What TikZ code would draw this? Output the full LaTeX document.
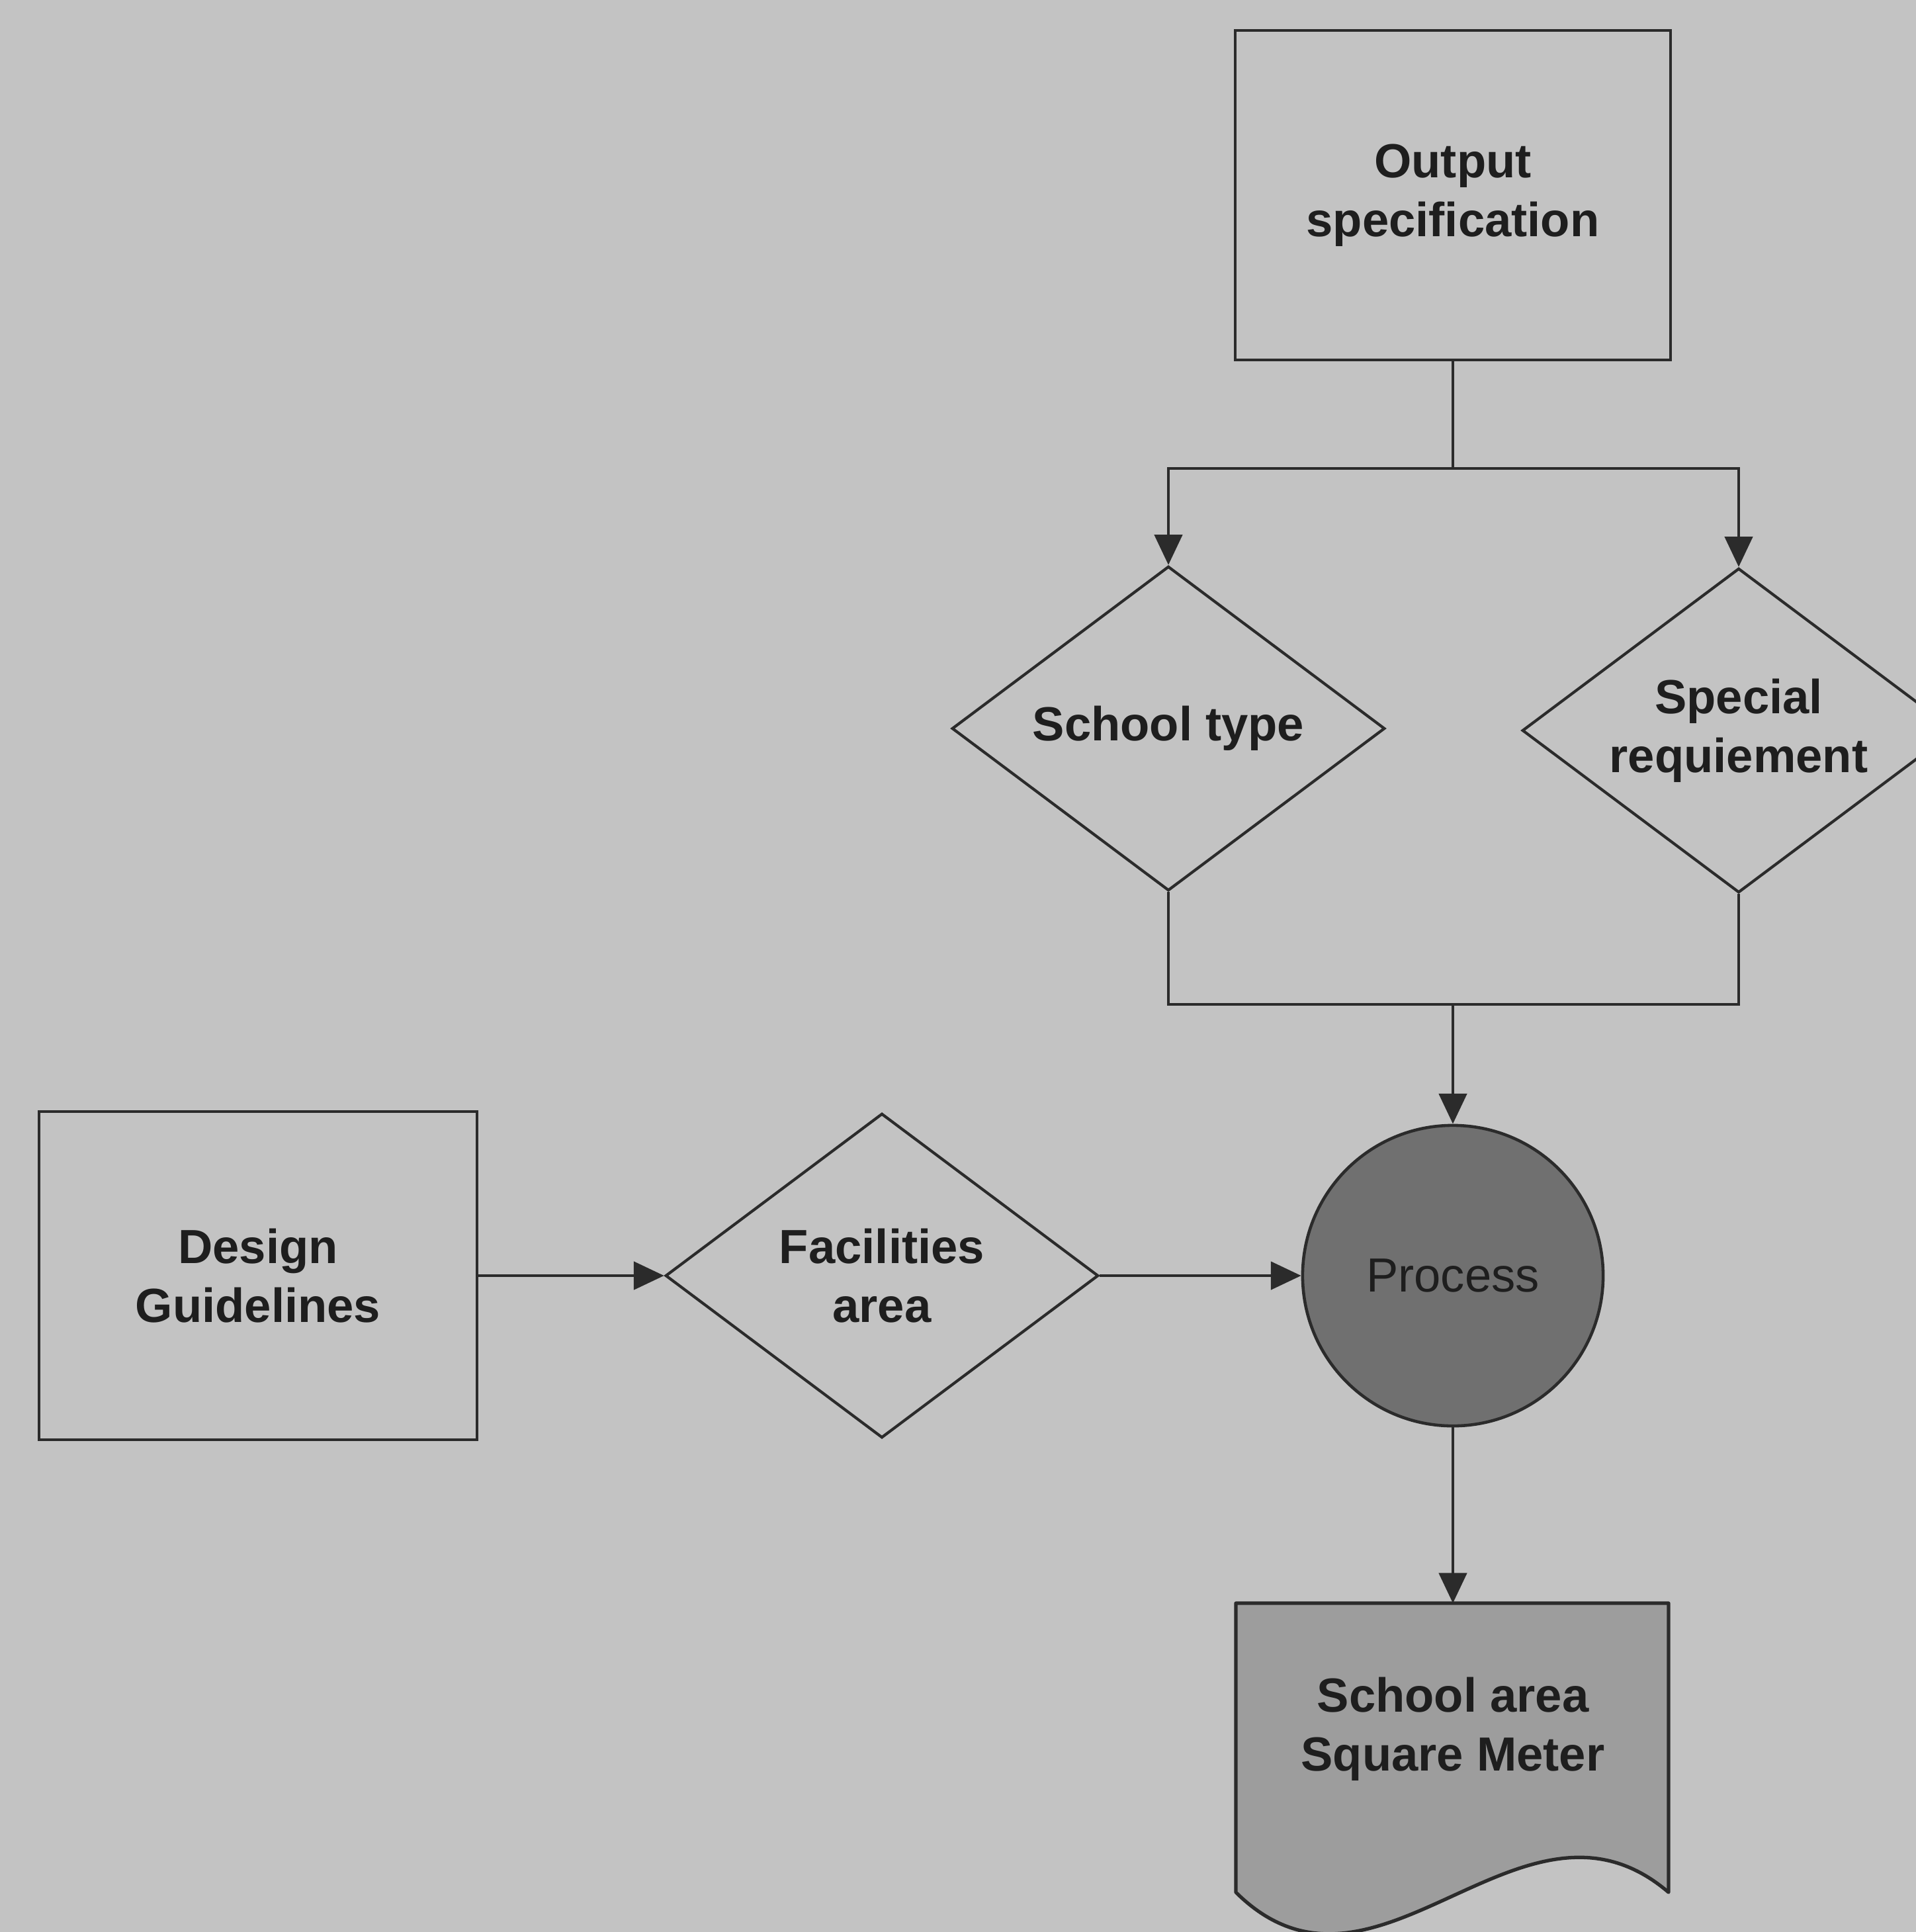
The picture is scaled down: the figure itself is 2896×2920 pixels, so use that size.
\documentclass[tikz,border=0pt]{standalone}
\usepackage{fontspec}
\setmainfont{Liberation Sans}
\usetikzlibrary{shapes.geometric,arrows.meta}

\definecolor{paper}{HTML}{C3C3C3}
\definecolor{ink}{HTML}{2B2B2B}
\definecolor{label}{HTML}{1E1E1E}
\definecolor{procfill}{HTML}{707070}
\definecolor{docfill}{HTML}{9D9D9D}

\tikzset{
  flow/.style={draw=ink, line width=1.2pt},
  arr/.style={flow, -{Triangle[length=13pt,width=12pt]}},
  txt/.style={text=label, font=\fontsize{20.6}{25.4}\selectfont\bfseries, align=center},
  boxnode/.style={flow, txt, rectangle, inner sep=0pt},
  decision/.style={flow, txt, diamond, aspect=1.33, inner sep=0pt,
    minimum width=6.54cm, minimum height=4.9cm},
  procnode/.style={draw=ink, line width=1.3pt, fill=procfill, circle, inner sep=0pt,
    minimum size=4.54cm, text=label, font=\fontsize{20.6}{25.4}\selectfont},
}

\begin{document}
\begin{tikzpicture}[x=0.01cm, y=-0.01cm]
  % canvas
  \useasboundingbox (0,0) rectangle (2896,2920);
  \clip (0,0) rectangle (2896,2920);
  \fill[paper] (0,0) rectangle (2896,2920);

  % nodes
  \node[boxnode, minimum width=6.57cm, minimum height=4.97cm] (out) at (2196,295)
    {Output\\specification};
  \node[decision] (school) at (1766,1101) {School type};
  \node[decision] (special) at (2628,1104) {Special\\requiement};
  \node[procnode] (proc) at (2196,1928) {Process};
  \node[boxnode, minimum width=6.61cm, minimum height=4.95cm] (design) at (390,1928)
    {Design\\Guidelines};
  \node[decision] (fac) at (1333,1928) {Facilities\\area};

  % output document
  \coordinate (doctop) at (2196,2423);
  \filldraw[draw=ink, line width=1.5pt, fill=docfill, line join=round]
    (1868,2423) -- (2522,2423) -- (2522,2860)
    .. controls (2300,2670) and (2080,3070) .. (1868,2860) -- cycle;
  \node[txt] (doctext) at (2196,2613) {School area\\Square Meter};

  % split and merge points
  \coordinate (split) at (2196,708);
  \coordinate (merge) at (2196,1518);

  % connectors
  \draw[flow] (out.south) -- (split);
  \draw[arr] (split) -| (school.north);
  \draw[arr] (split) -| (special.north);
  \draw[flow] (school.south) |- (merge);
  \draw[flow] (special.south) |- (merge);
  \draw[arr] (merge) -- (proc.north);
  \draw[arr] (design.east) -- (fac.west);
  \draw[arr] (fac.east) -- (proc.west);
  \draw[arr] (proc.south) -- (doctop);
\end{tikzpicture}
\end{document}
